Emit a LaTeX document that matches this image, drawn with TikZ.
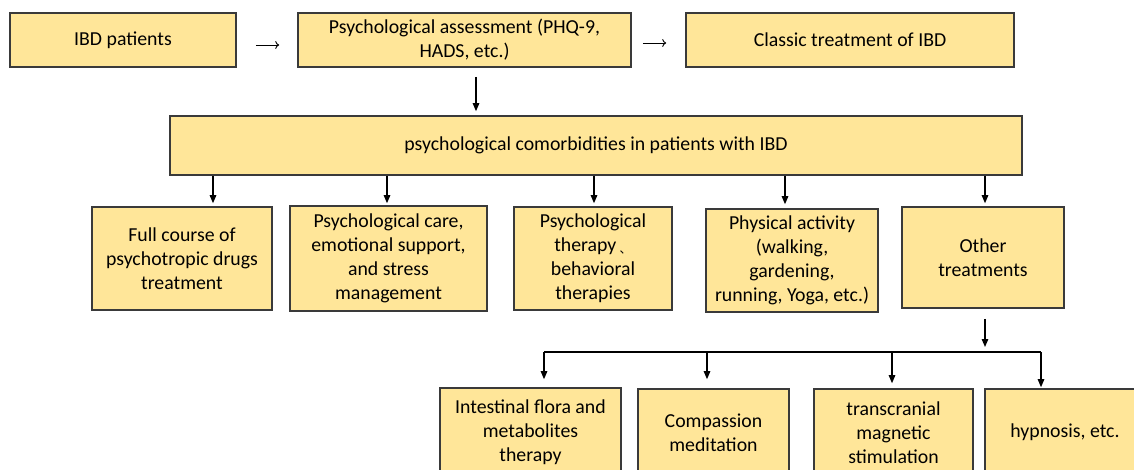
\documentclass[tikz,border=0pt]{standalone}
\usepackage{fontspec}
\setmainfont{Carlito}
\usetikzlibrary{arrows.meta}
\definecolor{boxfill}{HTML}{FFE699}
\definecolor{boxline}{HTML}{3A3A3A}
\begin{document}
\begin{tikzpicture}[x=1pt,y=-1pt,
  box/.style={draw=boxline, line width=1.6pt, fill=boxfill, inner sep=0pt,
    align=center, font=\fontsize{19.8}{24}\selectfont, text=black},
  arr/.style={line width=1.2pt, -{Triangle[length=8pt,width=6.5pt]}},
  thinarr/.style={line width=0.9pt, -{To[length=4pt,width=8pt]}},
  link/.style={line width=1.2pt}]
\clip (0,0) rectangle (1134,469);
\fill[white] (0,0) rectangle (1134,469);

% top row
\node[box, minimum width=226pt, minimum height=54pt] (pat) at (123,40) {IBD patients};
\node[box, minimum width=333pt, minimum height=54pt] (assess) at (464.5,40) {Psychological assessment (PHQ-9,\\HADS, etc.)};
\node[box, minimum width=328pt, minimum height=54pt] (classic) at (850,40) {Classic treatment of IBD};

% comorbidity bar
\node[box, minimum width=852pt, minimum height=59pt] (comorb) at (596,145.5) {psychological comorbidities in patients with IBD};

% second row
\node[box, minimum width=180pt, minimum height=103pt] (drugs) at (182,258.5) {Full course of\\psychotropic drugs\\treatment};
\node[box, minimum width=197pt, minimum height=105pt] (care) at (388.5,258.5) {Psychological care,\\emotional support,\\and stress\\management};
\node[box, minimum width=158pt, minimum height=103pt] (therapy) at (593,258.5) {Psychological\\therapy\,\raisebox{-0.1em}{\fontspec{Noto Sans CJK SC}\fontsize{12}{12}\selectfont 、}\\behavioral\\therapies};
\node[box, minimum width=172pt, minimum height=103pt] (phys) at (792,260.5) {Physical activity\\(walking,\\gardening,\\running, Yoga, etc.)};
\node[box, minimum width=162pt, minimum height=101pt] (other) at (983,257.5) {Other\\treatments};

% third row
\node[box, minimum width=181pt, minimum height=88pt] (flora) at (530.5,432) {Intestinal flora and\\metabolites\\therapy};
\node[box, minimum width=151pt, minimum height=87pt] (compass) at (713.5,432.5) {Compassion\\meditation};
\node[box, minimum width=159pt, minimum height=87pt] (tms) at (893.5,432.5) {transcranial\\magnetic\\stimulation};
\node[box, minimum width=160pt, minimum height=87pt] (hyp) at (1065,432.5) {hypnosis, etc.};

% top row arrows
\draw[thinarr, shorten <=19pt, shorten >=18pt] ([yshift=-5pt]pat.east) -- ([yshift=-5pt]assess.west);
\draw[thinarr, shorten <=11pt, shorten >=19pt] ([yshift=-3pt]assess.east) -- ([yshift=-3pt]classic.west);

% assessment to comorbidities
\draw[arr, shorten <=9pt, shorten >=4pt] (assess.south -| 476,0) -- (comorb.north -| 476,0);

% comorbidities to second row
\draw[arr, shorten >=3pt] (comorb.south -| 213,0) -- (drugs.north -| 213,0);
\draw[arr, shorten >=2pt] (comorb.south -| 387,0) -- (care.north -| 387,0);
\draw[arr, shorten >=3pt] (comorb.south -| 594,0) -- (therapy.north -| 594,0);
\draw[arr, shorten >=4pt] (comorb.south -| 785,0) -- (phys.north -| 785,0);
\draw[arr, shorten >=3pt] (comorb.south -| 985,0) -- (other.north -| 985,0);

% branching to third row
\coordinate (split) at (985,352);
\coordinate (bl) at (544,352);
\coordinate (br) at (1041,352);
\draw[arr, shorten <=10pt, shorten >=5pt] (other.south -| split) -- (split);
\draw[link] (bl) -- (br);
\draw[arr, shorten >=8pt] (bl) -- (flora.north -| bl);
\draw[arr, shorten >=9pt] (707,352) -- (compass.north -| 707,0);
\draw[arr, shorten >=5pt] (892,352) -- (tms.north -| 892,0);
\draw[arr, shorten >=1pt] (br) -- (hyp.north -| br);
\end{tikzpicture}
\end{document}
